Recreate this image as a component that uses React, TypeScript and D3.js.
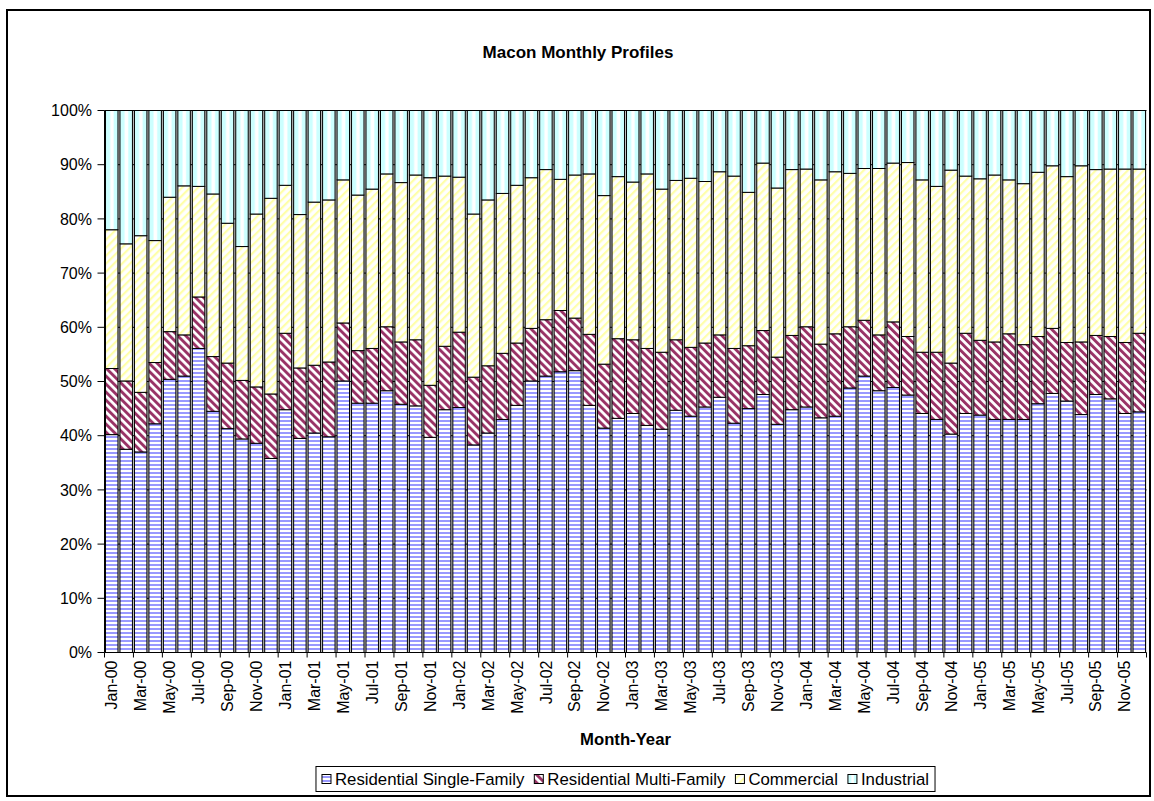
import React, { useMemo } from "react";
import * as d3 from "d3";

const MONTHS = ["Jan", "Feb", "Mar", "Apr", "May", "Jun", "Jul", "Aug", "Sep", "Oct", "Nov", "Dec"];
const YEARS = ["00", "01", "02", "03", "04", "05"];
const CATEGORIES: string[] = YEARS.flatMap((yr) => MONTHS.map((m) => `${m}-${yr}`));

const SERIES_NAMES = ["Residential Single-Family", "Residential Multi-Family", "Commercial", "Industrial"];

const SINGLE_FAMILY = [
  40.2, 37.5, 37.0, 42.2, 50.4, 51.0, 56.1, 44.5, 41.3, 39.4, 38.6, 35.8,
  44.8, 39.5, 40.5, 39.8, 50.1, 46.0, 46.0, 48.3, 45.8, 45.5, 39.7, 44.8,
  45.2, 38.3, 40.5, 43.0, 45.6, 50.1, 51.0, 51.8, 52.0, 45.6, 41.4, 43.2,
  44.1, 41.9, 41.2, 44.7, 43.6, 45.3, 47.1, 42.3, 45.0, 47.6, 42.1, 44.8,
  45.3, 43.3, 43.6, 48.8, 51.0, 48.3, 48.9, 47.5, 44.1, 43.0, 40.3, 44.1,
  43.8, 43.0, 43.0, 43.0, 45.9, 47.8, 46.4, 43.9, 47.6, 46.8, 44.1, 44.4,
];
const MULTI_FAMILY = [
  12.2, 12.6, 11.0, 11.3, 8.8, 7.6, 9.5, 10.1, 12.1, 10.8, 10.4, 11.9,
  14.1, 13.0, 12.5, 13.8, 10.7, 9.7, 10.1, 11.8, 11.5, 12.2, 9.6, 11.7,
  13.9, 12.5, 12.4, 12.2, 11.5, 9.7, 10.4, 11.3, 9.7, 13.1, 11.8, 14.7,
  13.6, 14.2, 14.2, 13.0, 12.7, 11.8, 11.5, 13.8, 11.6, 11.8, 12.4, 13.7,
  14.8, 13.6, 15.2, 11.3, 10.3, 10.3, 12.1, 10.8, 11.3, 12.4, 13.1, 14.8,
  13.8, 14.3, 15.8, 13.8, 12.4, 12.0, 10.8, 13.4, 10.9, 11.5, 13.1, 14.5,
];
const COMMERCIAL = [
  25.6, 25.3, 28.9, 22.5, 24.8, 27.5, 20.4, 30.0, 25.8, 24.7, 31.9, 36.1,
  27.3, 28.3, 30.1, 29.9, 26.4, 28.7, 29.4, 28.2, 29.4, 30.4, 38.3, 31.4,
  28.6, 30.1, 30.6, 29.5, 29.1, 27.8, 27.7, 24.2, 26.4, 29.6, 31.1, 29.9,
  29.1, 32.2, 30.1, 29.4, 31.2, 29.8, 30.1, 31.8, 28.3, 30.9, 31.2, 30.6,
  29.1, 30.3, 29.9, 28.3, 28.0, 30.7, 29.3, 32.1, 31.8, 30.6, 35.6, 29.0,
  29.8, 30.8, 28.4, 29.7, 30.3, 30.0, 30.6, 32.5, 30.6, 30.9, 32.0, 30.3,
];
const INDUSTRIAL = [
  22.0, 24.6, 23.1, 24.0, 16.0, 13.9, 14.0, 15.4, 20.8, 25.1, 19.1, 16.2,
  13.8, 19.2, 16.9, 16.5, 12.8, 15.6, 14.5, 11.7, 13.3, 11.9, 12.4, 12.1,
  12.3, 19.1, 16.5, 15.3, 13.8, 12.4, 10.9, 12.7, 11.9, 11.7, 15.7, 12.2,
  13.2, 11.7, 14.5, 12.9, 12.5, 13.1, 11.3, 12.1, 15.1, 9.7, 14.3, 10.9,
  10.8, 12.8, 11.3, 11.6, 10.7, 10.7, 9.7, 9.6, 12.8, 14.0, 11.0, 12.1,
  12.6, 11.9, 12.8, 13.5, 11.4, 10.2, 12.2, 10.2, 10.9, 10.8, 10.8, 10.8,
];

const FILLS = ["url(#patSF)", "url(#patMF)", "url(#patCom)", "url(#gradInd)"];

const W = 1154;
const H = 801;
const PL = 104.5;
const PR = 1146.5;
const PT = 110.5;
const PB = 652.5;
const FONT = "'Liberation Sans', Arial, Helvetica, sans-serif";
const LEGEND_FS = 16.8;

export default function App() {
  const rows = CATEGORIES.map((c, i) => ({
    cat: c,
    s0: SINGLE_FAMILY[i],
    s1: MULTI_FAMILY[i],
    s2: COMMERCIAL[i],
    s3: INDUSTRIAL[i],
  }));
  const keys = ["s0", "s1", "s2", "s3"];
  const stacked = d3.stack<any>().keys(keys).offset(d3.stackOffsetExpand)(rows);

  const x = d3.scaleBand<string>().domain(CATEGORIES).range([PL, PR]).paddingInner(0.14).paddingOuter(0.07);
  const y = d3.scaleLinear().domain([0, 1]).range([PB, PT]);
  const step = x.step();
  const bw = x.bandwidth();
  const yTicks = d3.range(0, 11).map((d) => d / 10);
  const fmt = d3.format(".0%");
  const plotCenter = (PL + PR) / 2;

  const legendWidths = useMemo(() => {
    const cv = document.createElement("canvas");
    const ctx = cv.getContext("2d");
    if (!ctx) return SERIES_NAMES.map((n) => n.length * 8);
    ctx.font = `${LEGEND_FS}px 'Liberation Sans'`;
    return SERIES_NAMES.map((n) => ctx.measureText(n).width);
  }, []);
  const sw = 9;
  const swGap = 4;
  const itemGap = 10;
  const itemW = legendWidths.map((w) => sw + swGap + w);
  const legendInner = d3.sum(itemW) + itemGap * (itemW.length - 1);
  const legendPad = 6;
  const legendBoxW = legendInner + legendPad * 2;
  const legendX = plotCenter - legendBoxW / 2;
  const legendY = 766.5;
  const legendH = 25;
  let acc = legendX + legendPad;
  const legendPos = itemW.map((w) => {
    const p = acc;
    acc += w + itemGap;
    return p;
  });

  const boundaryTicks = d3.range(0, CATEGORIES.length + 1, 2).map((i) => PL + i * step);

  return (
    <svg width={W} height={H} style={{ position: "absolute", left: 0, top: 0, background: "#fff" }} fontFamily={FONT}>
      <defs>
        <pattern id="patSF" patternUnits="userSpaceOnUse" width={4} height={4}>
          <rect width={4} height={4} fill="#ffffff" />
          <rect width={4} height={2} fill="#9999ff" />
        </pattern>
        <pattern id="patMF" patternUnits="userSpaceOnUse" width={5.66} height={5.66} patternTransform="rotate(-45)">
          <rect width={5.66} height={5.66} fill="#ffffff" />
          <rect width={2.9} height={5.66} fill="#993366" />
        </pattern>
        <pattern id="patCom" patternUnits="userSpaceOnUse" width={5.66} height={5.66} patternTransform="rotate(45)">
          <rect width={5.66} height={5.66} fill="#ffffff" />
          <rect width={2.2} height={5.66} fill="#ffffaa" />
        </pattern>
        <linearGradient id="gradInd" x1="0" x2="1" y1="0" y2="0">
          <stop offset="0" stopColor="#ccffff" />
          <stop offset="0.3" stopColor="#ccffff" />
          <stop offset="0.45" stopColor="#ffffff" />
          <stop offset="0.6" stopColor="#ffffff" />
          <stop offset="0.72" stopColor="#ccffff" />
          <stop offset="1" stopColor="#ccffff" />
        </linearGradient>
      </defs>

      <rect x={7} y={10} width={1143} height={786} fill="#fff" stroke="#000" strokeWidth={2} />

      <text x={578} y={58} textAnchor="middle" fontSize={17} fontWeight="bold">
        Macon Monthly Profiles
      </text>

      {/* plot area */}
      <rect x={PL} y={PT} width={PR - PL} height={PB - PT} fill="#c0c0c0" />
      {yTicks.slice(1).map((t) => (
        <line key={t} x1={PL} x2={PR} y1={y(t)} y2={y(t)} stroke="#000" strokeWidth={1} />
      ))}

      {stacked.map((layer, li) => (
        <g key={layer.key} fill={FILLS[li]}>
          {layer.map((d, i) => (
            <rect
              key={i}
              x={x(d.data.cat)}
              y={y(d[1])}
              width={bw}
              height={y(d[0]) - y(d[1])}
              stroke="#000"
              strokeWidth={1}
            />
          ))}
        </g>
      ))}

      {/* y axis */}
      <line x1={PL} x2={PL} y1={PT} y2={PB} stroke="#000" strokeWidth={1} />
      {yTicks.map((t) => (
        <g key={t}>
          <line x1={PL - 7} x2={PL} y1={y(t)} y2={y(t)} stroke="#000" />
          <text x={PL - 12.5} y={y(t)} dy="0.35em" textAnchor="end" fontSize={16}>
            {fmt(t)}
          </text>
        </g>
      ))}

      {/* x axis */}
      <line x1={PL} x2={PR} y1={PB} y2={PB} stroke="#000" strokeWidth={1} />
      {boundaryTicks.map((bx, i) => (
        <line key={i} x1={bx} x2={bx} y1={PB} y2={PB + 5} stroke="#000" />
      ))}
      {CATEGORIES.map((c, i) =>
        i % 2 === 0 ? (
          <text
            key={c}
            transform={`translate(${(x(c) ?? 0) + bw / 2},${PB + 8}) rotate(-90)`}
            dy="0.35em"
            textAnchor="end"
            fontSize={16}
          >
            {c}
          </text>
        ) : null
      )}

      <text x={plotCenter} y={745} textAnchor="middle" fontSize={16.7} fontWeight="bold">
        Month-Year
      </text>

      {/* legend */}
      <rect x={legendX} y={legendY} width={legendBoxW} height={legendH} fill="#fff" stroke="#000" strokeWidth={1} />
      {SERIES_NAMES.map((n, i) => (
        <g key={n}>
          <rect
            x={legendPos[i]}
            y={legendY + legendH / 2 - sw / 2}
            width={sw}
            height={sw}
            fill={FILLS[i]}
            stroke="#000"
            strokeWidth={1}
          />
          <text x={legendPos[i] + sw + swGap} y={legendY + legendH / 2} dy="0.35em" fontSize={LEGEND_FS}>
            {n}
          </text>
        </g>
      ))}
    </svg>
  );
}
